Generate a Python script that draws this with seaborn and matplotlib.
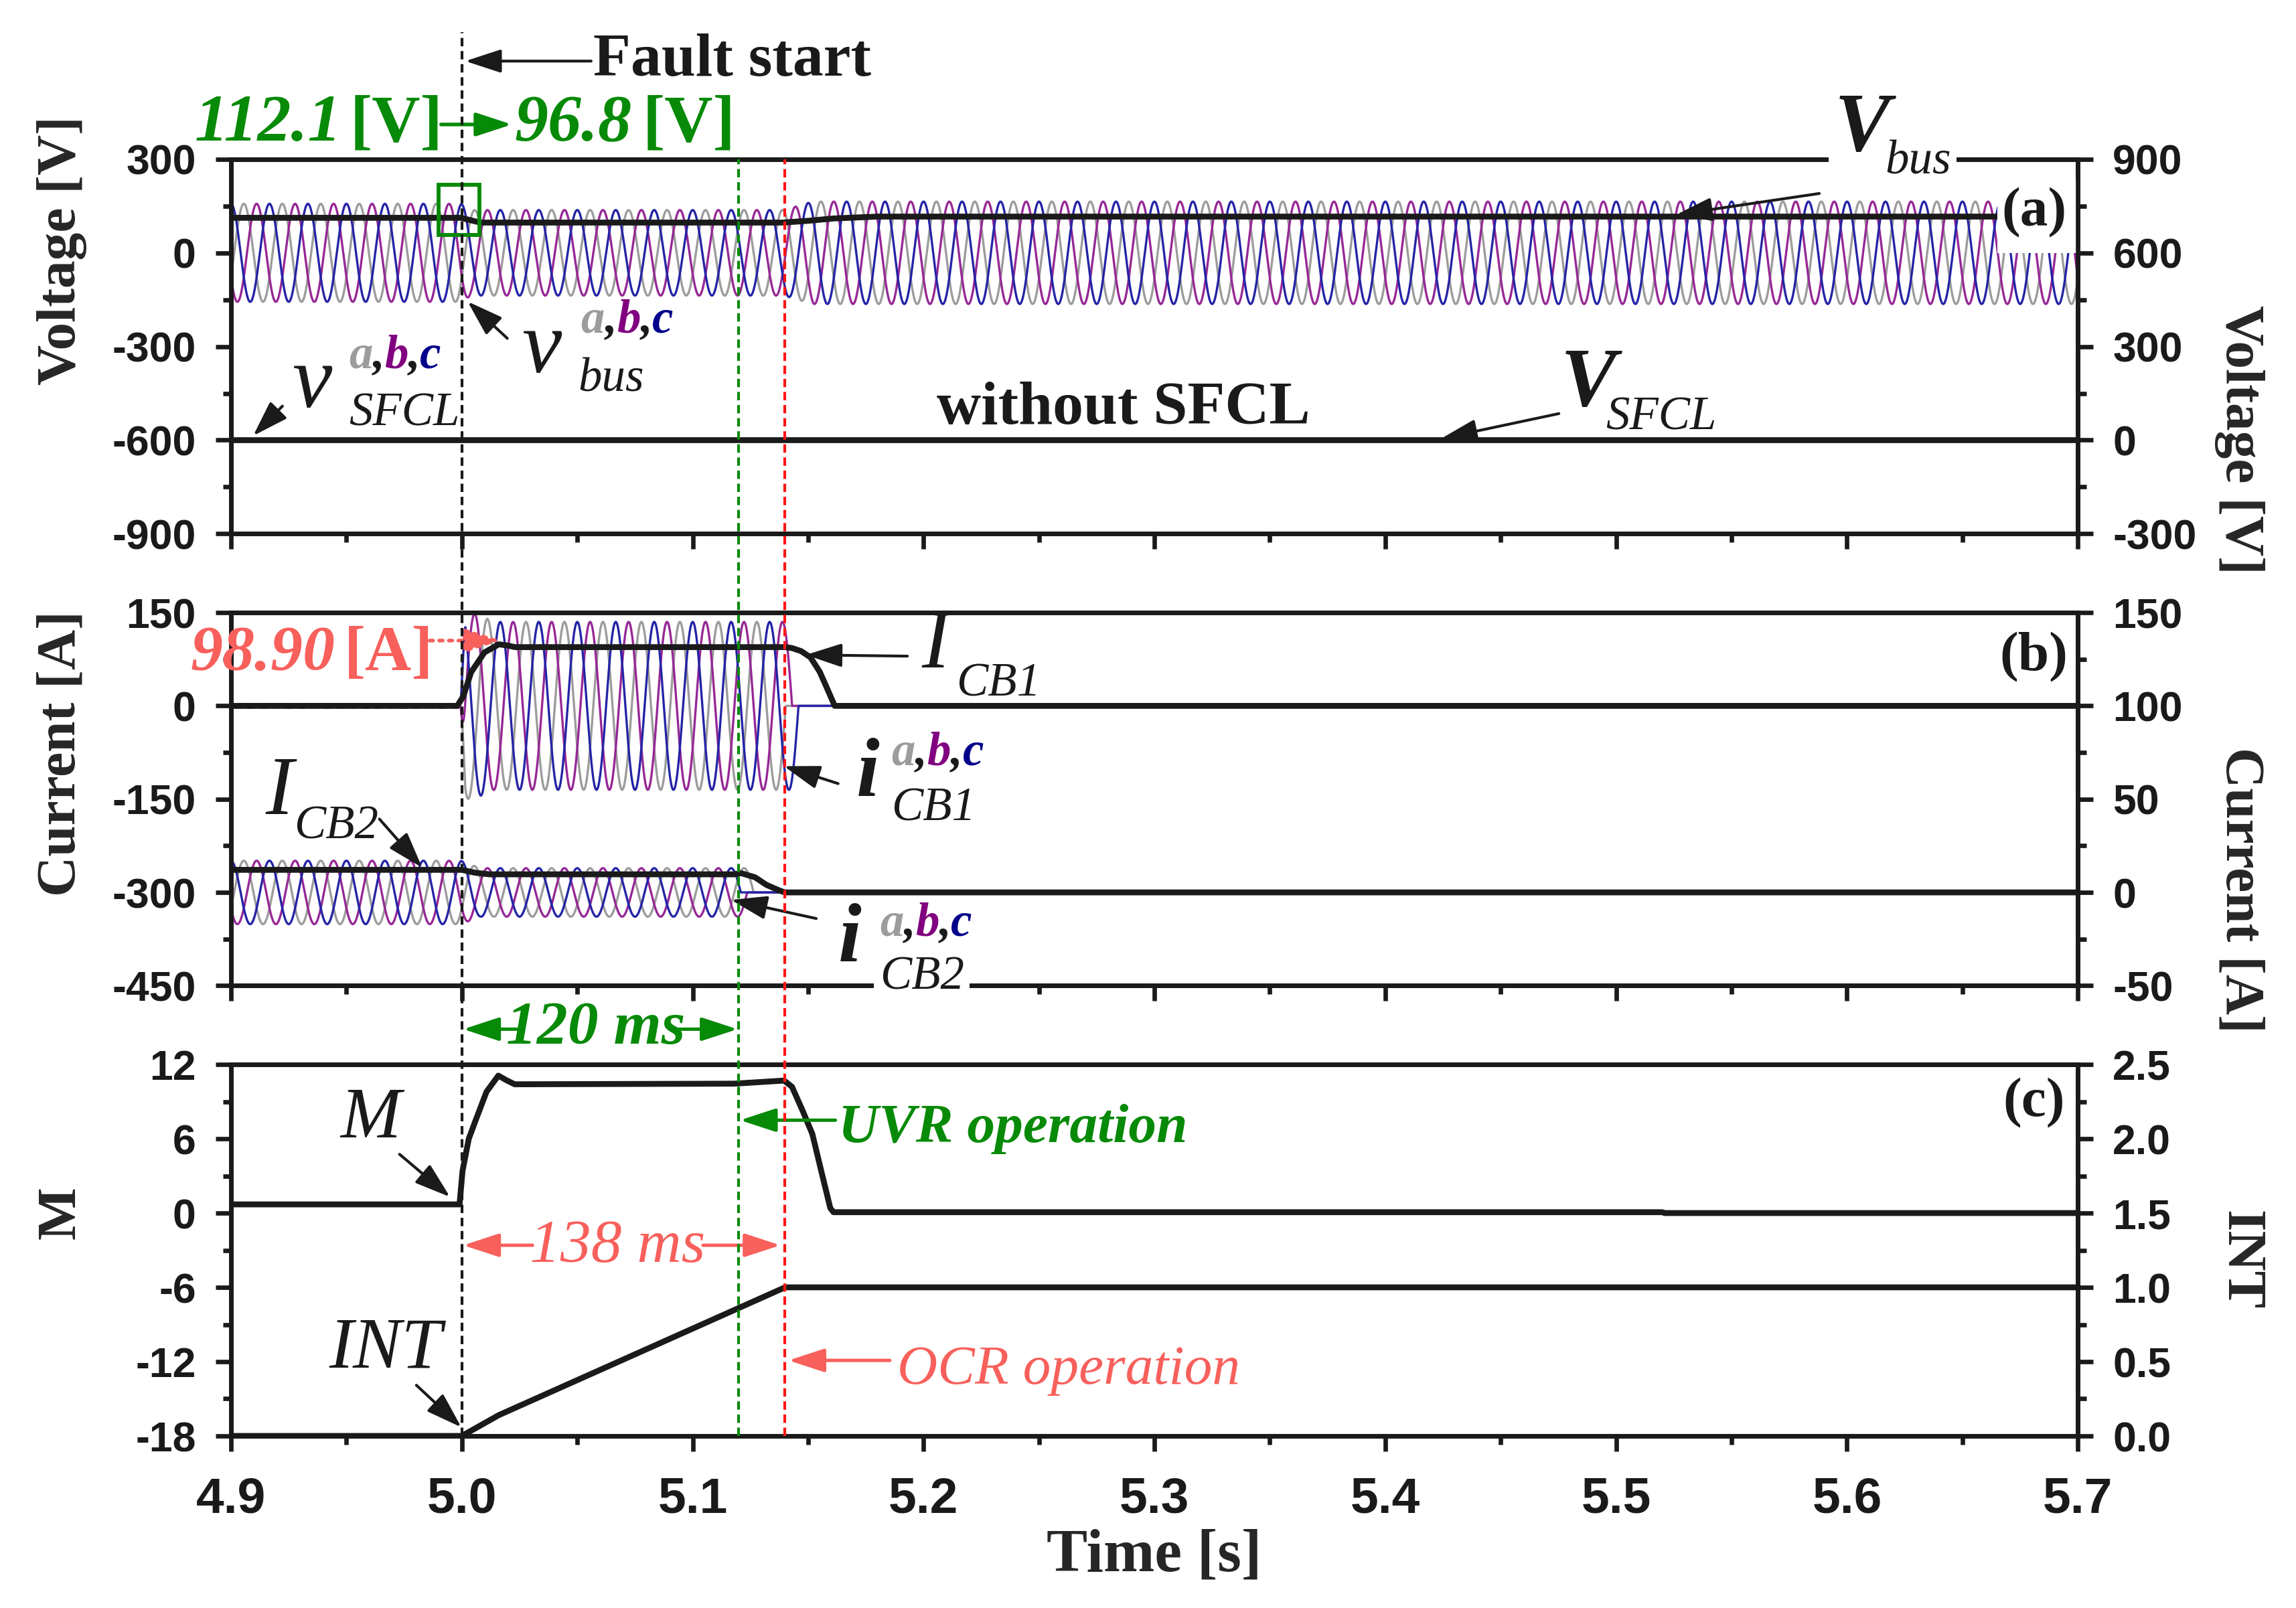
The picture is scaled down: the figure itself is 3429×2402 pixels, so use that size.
import numpy as np
import matplotlib
matplotlib.use("Agg")
import matplotlib.pyplot as plt
import seaborn as sns
from matplotlib import transforms
from matplotlib.lines import Line2D
from matplotlib.patches import Rectangle
from matplotlib.ticker import MultipleLocator, FormatStrFormatter
from matplotlib.offsetbox import TextArea, HPacker, AnnotationBbox

# ---- timing [s] ----
T_START, T_END = 4.9, 5.7
FAULT_T, UVR_T, OCR_T = 5.0, 5.12, 5.14
FREQ = 60.0
DT = 1e-4

# phase colours a, b, c
PHASE_COLORS = ['#9c9c9c', '#962896', '#2424a6']
ABC_COLORS = ['#9c9c9c', '#800080', '#00008b']
GREEN = '#078a07'
SALMON = '#f8605c'
RED = '#ff1414'

# ---- (a) voltages ----
VBUS_T = [4.9, 4.9995, 5.004, 5.008, 5.139, 5.150, 5.161, 5.180, 5.7]
VBUS = [112.1, 112.1, 104.0, 96.8, 96.8, 102.5, 110.0, 116.0, 116.0]
VBUS_AMP_T = [4.9, 4.9995, 5.004, 5.1395, 5.152, 5.7]
VBUS_AMP = [157, 157, 137, 137, 164, 164]
VBUS_PHASE = [-120, -240, 0]
VSFCL_T = [4.9, 5.7]
VSFCL = [0, 0]

# ---- (b) currents ----
ICB1_T = [4.9, 4.998, 5.0006, 5.004, 5.0098, 5.016, 5.020, 5.023, 5.14,
          5.143, 5.147, 5.151, 5.155, 5.158, 5.1615, 5.7]
ICB1 = [0, 0, 15, 54, 86, 99, 97, 94.5, 94.5, 93, 88, 78, 55, 30, 0, 0]
ICB1_AMP_T = [4.9, 4.9995, 5.0015, 5.006, 5.014, 5.7]
ICB1_AMP = [3, 3, 150, 148, 135, 135]
ICB1_PHASE = [-240, -120, 0]

ICB2_T = [4.9, 5.0, 5.006, 5.012, 5.118, 5.121, 5.127, 5.132, 5.138, 5.14, 5.7]
ICB2 = [12.1, 12.1, 10.5, 9.7, 9.7, 10.3, 8.1, 4.0, 0.8, 0, 0]
ICB2_AMP_T = [4.9, 4.9995, 5.008, 5.7]
ICB2_AMP = [17, 17, 13, 13]
ICB2_PHASE = [-120, -240, 0]

# ---- (c) relay signals ----
M_T = [4.9, 4.999, 5.0003, 5.003, 5.0062, 5.0107, 5.0158, 5.0196, 5.0229,
       5.118, 5.1396, 5.143, 5.1473, 5.1518, 5.1562, 5.1596, 5.161, 5.52, 5.521, 5.7]
M = [0.7, 0.7, 3.4, 6.0, 7.6, 9.8, 11.1, 10.7, 10.4,
     10.45, 10.7, 10.2, 8.4, 6.4, 3.0, 0.4, 0.07, 0.07, 0.0, 0.0]
INT_T = [4.9, 5.0, 5.016, 5.14, 5.7]
INT = [0, 0, 0.14, 1.0, 1.0]

SERIF = 'Liberation Serif'

sns.set_theme(style="ticks")
plt.rcParams['font.family'] = ['Liberation Sans', 'DejaVu Sans']
plt.rcParams['font.weight'] = 'bold'
plt.rcParams['axes.unicode_minus'] = False


def three_phase(t, amp_t, amp, phases, trip=None):
    env = np.interp(t, amp_t, amp)
    out = []
    for ph in phases:
        w = env * np.cos(2 * np.pi * FREQ * (t - T_START) + np.deg2rad(ph))
        if trip is not None:
            # breaker opens at the first current zero after the trip signal
            cross = np.nonzero((t[1:] >= trip) & (np.signbit(w[1:]) != np.signbit(w[:-1])))[0]
            w[cross[0] + 1:] = 0.0
        out.append(w)
    return out


def line(ax, x, y, color='k', lw=2.1, z=2):
    sns.lineplot(x=np.asarray(x, float), y=np.asarray(y, float), ax=ax, color=color,
                 linewidth=lw, estimator=None, sort=False, legend=False, zorder=z)


def style_pair(ax, ax2, lim, step, lim2, step2, fmt2='%d', xlabels=False):
    for a in (ax, ax2):
        a.set_xlim(T_START, T_END)
        for s in a.spines.values():
            s.set_linewidth(1.6)
            s.set_color('k')
        a.set_xlabel('')
        a.set_ylabel('')
    ax.set_ylim(*lim)
    ax.yaxis.set_major_locator(MultipleLocator(step))
    ax.yaxis.set_minor_locator(MultipleLocator(step / 2))
    ax2.set_ylim(*lim2)
    ax2.yaxis.set_major_locator(MultipleLocator(step2))
    ax2.yaxis.set_minor_locator(MultipleLocator(step2 / 2))
    ax2.yaxis.set_major_formatter(FormatStrFormatter(fmt2))
    ax.xaxis.set_major_locator(MultipleLocator(0.1))
    ax.xaxis.set_minor_locator(MultipleLocator(0.05))
    ax.xaxis.set_major_formatter(FormatStrFormatter('%.1f'))
    for a in (ax, ax2):
        a.tick_params(which='major', direction='out', length=5.5, width=1.6,
                      labelsize=15, pad=7, colors='k')
        a.tick_params(which='minor', direction='out', length=3, width=1.6, colors='k')
    ax.tick_params(axis='y', right=False)
    ax.tick_params(axis='x', top=False, labelbottom=xlabels, labelsize=18, pad=9)


fig = plt.figure(figsize=(11.43, 8.007), dpi=300)
LEFT, WIDTH = 0.1006, 0.8044
ax_a = fig.add_axes([LEFT, 0.668, WIDTH, 0.233])
ax_b = fig.add_axes([LEFT, 0.387, WIDTH, 0.232])
ax_c = fig.add_axes([LEFT, 0.107, WIDTH, 0.231])
ax_a2 = ax_a.twinx()
ax_b2 = ax_b.twinx()
ax_c2 = ax_c.twinx()

t = np.arange(T_START, T_END + DT / 2, DT)

# ---- (a) ----
for w, c in zip(three_phase(t, VBUS_AMP_T, VBUS_AMP, VBUS_PHASE), PHASE_COLORS):
    line(ax_a, t, w, color=c, lw=0.8)
line(ax_a, VBUS_T, VBUS, z=2.2)
line(ax_a2, VSFCL_T, VSFCL)
ax_a.add_patch(Rectangle((5.665, 0), 0.0349, 240, facecolor='white', edgecolor='none', zorder=3))
ax_a.add_patch(Rectangle((4.9898, 57), 0.0178, 160, facecolor='none', edgecolor=GREEN,
                         lw=1.4, zorder=4, clip_on=False))

# ---- (b) ----
for w, c in zip(three_phase(t, ICB1_AMP_T, ICB1_AMP, ICB1_PHASE, trip=OCR_T), PHASE_COLORS):
    line(ax_b, t, w, color=c, lw=0.8)
line(ax_b, ICB1_T, ICB1, z=2.2)
for w, c in zip(three_phase(t, ICB2_AMP_T, ICB2_AMP, ICB2_PHASE, trip=UVR_T), PHASE_COLORS):
    line(ax_b2, t, w, color=c, lw=0.8)
line(ax_b2, ICB2_T, ICB2, z=2.2)

# ---- (c) ----
line(ax_c, M_T, M)
line(ax_c2, INT_T, INT)

style_pair(ax_a, ax_a2, (-900, 300), 300, (-300, 900), 300)
style_pair(ax_b, ax_b2, (-450, 150), 150, (-50, 150), 50)
style_pair(ax_c, ax_c2, (-18, 12), 6, (0, 2.5), 0.5, fmt2='%.1f', xlabels=True)

lab = dict(fontfamily=SERIF, fontsize=20, fontweight='bold')
for ax, txt_, pos in [(ax_a, 'Voltage [V]', (-0.0916, 0.757)),
                      (ax_b, 'Current [A]', (-0.0916, 0.622)),
                      (ax_c, 'M', (-0.0916, 0.601))]:
    ax.set_ylabel(txt_, **lab, rotation=90, ha='center', va='center', rotation_mode='anchor')
    ax.yaxis.set_label_coords(*pos)
for ax, txt_, pos in [(ax_a2, 'Voltage [V]', (1.0876, 0.251)),
                      (ax_b2, 'Current [A]', (1.0876, 0.256)),
                      (ax_c2, 'INT', (1.0876, 0.474))]:
    ax.set_ylabel(txt_, **lab, rotation=270, ha='center', va='center', rotation_mode='anchor')
    ax.yaxis.set_label_coords(*pos)
ax_c.set_xlabel('Time [s]', fontfamily=SERIF, fontsize=22, fontweight='bold')
ax_c.xaxis.set_label_coords(0.5, -0.25)

# ---- event markers spanning the panels ----
vtrans = transforms.blended_transform_factory(ax_c.transData, fig.transFigure)
for x, top, col in [(FAULT_T, 0.980, 'k'), (UVR_T, 0.901, GREEN), (OCR_T, 0.901, RED)]:
    fig.add_artist(Line2D([x, x], [0.107, top], transform=vtrans, color=col,
                          lw=1.0, ls=(0, (3.0, 1.7)), zorder=5))


# ---- annotation helpers ----
def text(host, trans, xy, s, size, color='k', style='italic', weight='normal',
         ha='left', va='center', bg=False):
    kw = dict(fontfamily=SERIF, fontsize=size, color=color, fontstyle=style,
              fontweight=weight, ha=ha, va=va, transform=trans, clip_on=False, zorder=6)
    if bg:
        kw['bbox'] = dict(facecolor='white', edgecolor='none', pad=2)
    host.text(xy[0], xy[1], s, **kw)


def arrow(host, trans, tail, head, color='k', lw=1.0, ls='-'):
    host.annotate('', xy=head, xycoords=trans, xytext=tail, textcoords=trans,
                  arrowprops=dict(arrowstyle='-|>,head_length=0.55,head_width=0.18',
                                  color=color, lw=lw, ls=ls, mutation_scale=20,
                                  shrinkA=0, shrinkB=0),
                  annotation_clip=False, zorder=6)


def abc(host, trans, xy, size=17):
    chars = ['a', ',', 'b', ',', 'c']
    cols = [ABC_COLORS[0], 'k', ABC_COLORS[1], 'k', ABC_COLORS[2]]
    parts = [TextArea(ch, textprops=dict(color=c, fontfamily=SERIF, fontstyle='italic',
                                         fontweight='bold', fontsize=size))
             for ch, c in zip(chars, cols)]
    box = HPacker(children=parts, align='baseline', pad=0, sep=0)
    host.add_artist(AnnotationBbox(box, xy, xycoords=trans, box_alignment=(0, 0.5),
                                   frameon=False, pad=0, annotation_clip=False, zorder=6))


# (a)
ta = ax_a.transData
h = ax_a2
text(h, ta, (5.057, 614), 'Fault start', 22, style='normal', weight='bold')
arrow(h, ta, (5.056, 614), (5.0015, 614))
text(h, ta, (4.9478, 411), '112.1', 24, color=GREEN, weight='bold', ha='right')
text(h, ta, (4.9516, 411), '[V]', 24, color=GREEN, style='normal', weight='bold')
arrow(h, ta, (4.991, 411), (5.0217, 411), color=GREEN, lw=1.3)
text(h, ta, (5.0229, 411), '96.8', 24, color=GREEN, weight='bold')
text(h, ta, (5.0783, 411), '[V]', 24, color=GREEN, style='normal', weight='bold')
text(h, ta, (4.935, -425), 'v', 32, ha='center')
abc(h, ta, (4.951, -331))
text(h, ta, (4.951, -515), 'SFCL', 17)
arrow(h, ta, (4.9223, -491), (4.9096, -586))
text(h, ta, (5.0344, -312), 'v', 32, ha='center')
abc(h, ta, (5.0516, -217))
text(h, ta, (5.0503, -406), 'bus', 17)
arrow(h, ta, (5.0197, -274), (5.0025, -156))
text(h, ta, (5.2866, -501), 'without SFCL', 22, style='normal', weight='bold', ha='center')
text(h, ta, (5.4879, -425), 'V', 30, weight='bold', ha='center')
text(h, ta, (5.4955, -529), 'SFCL', 17)
arrow(h, ta, (5.4752, -515), (5.4242, -595))
text(h, ta, (5.6066, 392), 'V', 30, weight='bold', ha='center', bg=True)
text(h, ta, (5.6165, 290), 'bus', 17, bg=True)
arrow(h, ta, (5.588, 190), (5.526, 122))
text(h, ta, (5.681, 128), '(a)', 20, style='normal', weight='bold', ha='center')

# (b)
tb = ax_b.transData
h = ax_b2
text(h, tb, (4.9452, 82.7), '98.90', 23, color=SALMON, weight='bold', ha='right')
text(h, tb, (4.949, 82.7), '[A]', 23, color=SALMON, style='normal', weight='bold')
arrow(h, tb, (4.986, 105), (5.017, 105), color=SALMON, lw=1.3, ls=':')
text(h, tb, (5.2051, 94.5), 'I', 30, ha='center')
text(h, tb, (5.214, 35.4), 'CB1', 17)
arrow(h, tb, (5.193, 80), (5.149, 82))
text(h, tb, (5.1758, -113), 'i', 30, weight='bold', ha='center')
abc(h, tb, (5.186, -76))
text(h, tb, (5.186, -165), 'CB1', 17)
arrow(h, tb, (5.163, -125), (5.1395, -97))
text(h, tb, (4.921, -142), 'I', 30, ha='center')
text(h, tb, (4.9274, -194), 'CB2', 17)
arrow(h, tb, (4.9643, -182), (4.9828, -260))
text(h, tb, (5.168, -378), 'i', 30, weight='bold', ha='center')
abc(h, tb, (5.181, -350))
text(h, tb, (5.181, -437), 'CB2', 17, bg=True)
arrow(h, tb, (5.1535, -342), (5.1166, -312))
text(h, tb, (5.681, 78), '(b)', 20, style='normal', weight='bold', ha='center')

# (c)
tc = ax_c.transData
h = ax_c2
text(h, tc, (4.9605, 7.5), 'M', 26, ha='center')
arrow(h, tc, (4.973, 4.75), (4.9949, 1.3))
text(h, tc, (4.9669, -11.05), 'INT', 26, ha='center')
arrow(h, tc, (4.9803, -13.9), (4.9998, -17.3))
text(h, tc, (5.163, 6.77), 'UVR operation', 20, color=GREEN, weight='bold')
arrow(h, tc, (5.1618, 7.5), (5.1205, 7.5), color=GREEN, lw=1.2)
text(h, tc, (5.0675, -2.73), '138 ms', 22, color=SALMON, ha='center')
arrow(h, tc, (5.0306, -2.6), (5.0006, -2.6), color=SALMON, lw=1.2)
arrow(h, tc, (5.1045, -2.6), (5.138, -2.6), color=SALMON, lw=1.2)
text(h, tc, (5.058, 14.85), '120 ms', 22, color=GREEN, weight='bold', ha='center')
arrow(h, tc, (5.024, 14.85), (5.0006, 14.85), color=GREEN, lw=1.2)
arrow(h, tc, (5.0917, 14.85), (5.1194, 14.85), color=GREEN, lw=1.2)
text(h, tc, (5.1885, -12.7), 'OCR operation', 20, color=SALMON)
arrow(h, tc, (5.1854, -11.9), (5.1415, -11.9), color=SALMON, lw=1.2)
text(h, tc, (5.681, 8.9), '(c)', 20, style='normal', weight='bold', ha='center')

fig.savefig('out.png', dpi=300, facecolor='white')
